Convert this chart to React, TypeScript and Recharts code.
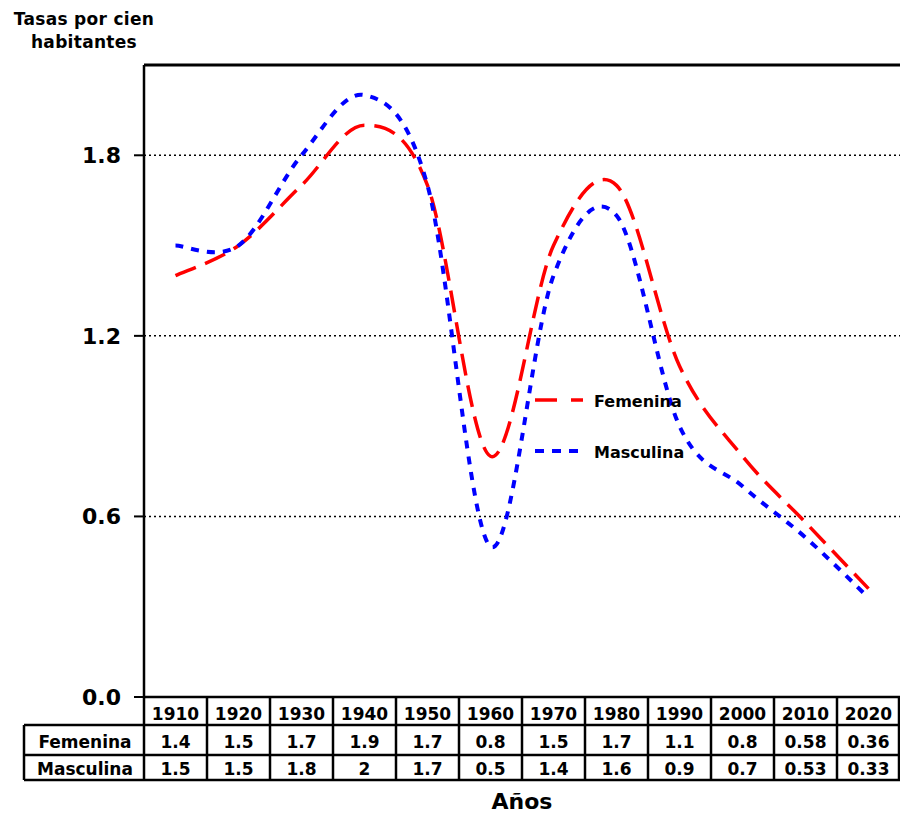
import React from 'react';
import { LineChart, Line, XAxis, YAxis, CartesianGrid, ReferenceLine } from 'recharts';

const years = ['1910', '1920', '1930', '1940', '1950', '1960', '1970', '1980', '1990', '2000', '2010', '2020'];
const femenina = [1.4, 1.5, 1.7, 1.9, 1.7, 0.8, 1.5, 1.7, 1.1, 0.8, 0.58, 0.36];
const masculina = [1.5, 1.5, 1.8, 2, 1.7, 0.5, 1.4, 1.6, 0.9, 0.7, 0.53, 0.33];
const femLabels = ['1.4', '1.5', '1.7', '1.9', '1.7', '0.8', '1.5', '1.7', '1.1', '0.8', '0.58', '0.36'];
const masLabels = ['1.5', '1.5', '1.8', '2', '1.7', '0.5', '1.4', '1.6', '0.9', '0.7', '0.53', '0.33'];
const yTicks = [0, 0.6, 1.2, 1.8];
const seriesNames = ['Femenina', 'Masculina'];

const data = years.map((y, i) => ({ year: y, Femenina: femenina[i], Masculina: masculina[i] }));

const FONT = '"DejaVu Sans", Verdana, sans-serif';

// Excel-like smoothing (cardinal spline, tension 0)
const excelCurve = (context: any) => {
  let pts: [number, number][] = [];
  return {
    areaStart() {},
    areaEnd() {},
    lineStart() { pts = []; },
    lineEnd() {
      const n = pts.length;
      if (!n) return;
      context.moveTo(pts[0][0], pts[0][1]);
      if (n === 1) return;
      for (let i = 0; i < n - 1; i++) {
        const p0 = pts[Math.max(i - 1, 0)];
        const p1 = pts[i];
        const p2 = pts[i + 1];
        const p3 = pts[Math.min(i + 2, n - 1)];
        const c1x = p1[0] + (p2[0] - p0[0]) / 6;
        const c1y = p1[1] + (p2[1] - p0[1]) / 6;
        const c2x = p2[0] - (p3[0] - p1[0]) / 6;
        const c2y = p2[1] - (p3[1] - p1[1]) / 6;
        context.bezierCurveTo(c1x, c1y, c2x, c2y, p2[0], p2[1]);
      }
    },
    point(x: number, y: number) { pts.push([+x, +y]); },
  };
};

const PLOT_LEFT = 144;
const COL_W = 63;
const TABLE_LEFT = 24;
const ROW_Y = [697, 725, 755, 780];

export default function App() {
  return (
    <div style={{ position: 'absolute', left: 0, top: 0, width: 900, height: 813, background: '#fff' }}>
      <div style={{ position: 'absolute', left: 0, top: 0 }}>
        <LineChart width={900} height={813} data={data} margin={{ top: 65, right: 0, bottom: 116, left: 0 }}>
          <CartesianGrid vertical={false} stroke="#000" strokeWidth={1.5} strokeDasharray="2 3" />
          <XAxis
            dataKey="year"
            height={0}
            tick={false}
            tickLine={false}
            axisLine={{ stroke: '#000', strokeWidth: 2.5 }}
            padding={{ left: COL_W / 2, right: COL_W / 2 }}
          />
          <YAxis
            width={PLOT_LEFT}
            domain={[0, 2.1]}
            ticks={yTicks}
            tickFormatter={(v: number) => v.toFixed(1)}
            tickSize={10}
            tickMargin={13}
            tickLine={{ stroke: '#000', strokeWidth: 2 }}
            axisLine={{ stroke: '#000', strokeWidth: 2.5 }}
            tick={{ fill: '#000', fontFamily: FONT, fontWeight: 'bold', fontSize: 22 }}
            allowDataOverflow
          />
          <ReferenceLine y={2.1} stroke="#000" strokeWidth={3} ifOverflow="visible" />
          <ReferenceLine y={0} stroke="#000" strokeWidth={2.5} ifOverflow="visible" />
          <Line
            dataKey="Femenina"
            type={excelCurve as any}
            stroke="#FF0000"
            strokeWidth={3.5}
            strokeDasharray="22 10"
            dot={false}
            activeDot={false}
            isAnimationActive={false}
          />
          <Line
            dataKey="Masculina"
            type={excelCurve as any}
            stroke="#0000FF"
            strokeWidth={4}
            strokeDasharray="8 8"
            dot={false}
            activeDot={false}
            isAnimationActive={false}
          />
        </LineChart>
      </div>
      <svg width={900} height={813} style={{ position: 'absolute', left: 0, top: 0, pointerEvents: 'none' }}>
        <text x={84} y={25} textAnchor="middle" fontFamily={FONT} fontWeight="bold" fontSize={17} letterSpacing={0.3} fill="#000">Tasas por cien</text>
        <text x={84} y={48} textAnchor="middle" fontFamily={FONT} fontWeight="bold" fontSize={17} letterSpacing={0.3} fill="#000">habitantes</text>

        {/* legend */}
        <line x1={535} y1={400} x2={583} y2={400} stroke="#FF0000" strokeWidth={3.5} strokeDasharray="22 14" />
        <text x={594} y={407} fontFamily={FONT} fontWeight="bold" fontSize={16} fill="#000">{seriesNames[0]}</text>
        <line x1={535} y1={451} x2={583} y2={451} stroke="#0000FF" strokeWidth={4} strokeDasharray="9 8" />
        <text x={594} y={458} fontFamily={FONT} fontWeight="bold" fontSize={16} fill="#000">{seriesNames[1]}</text>

        {/* table lines */}
        <g stroke="#000" strokeWidth={2.5}>
          {years.map((_, i) => (
            <line key={'v' + i} x1={PLOT_LEFT + i * COL_W} y1={ROW_Y[0]} x2={PLOT_LEFT + i * COL_W} y2={ROW_Y[3]} />
          ))}
          <line x1={PLOT_LEFT + years.length * COL_W - 1} y1={ROW_Y[0]} x2={PLOT_LEFT + years.length * COL_W - 1} y2={ROW_Y[3]} />
          <line x1={TABLE_LEFT} y1={ROW_Y[1]} x2={900} y2={ROW_Y[1]} />
          <line x1={TABLE_LEFT} y1={ROW_Y[2]} x2={900} y2={ROW_Y[2]} />
          <line x1={TABLE_LEFT} y1={ROW_Y[3]} x2={900} y2={ROW_Y[3]} />
          <line x1={TABLE_LEFT} y1={ROW_Y[1]} x2={TABLE_LEFT} y2={ROW_Y[3]} />
        </g>
        <g fontFamily={FONT} fontWeight="bold" fontSize={17} fill="#000" textAnchor="middle">
          {years.map((y, i) => (
            <text key={'y' + i} x={PLOT_LEFT + i * COL_W + COL_W / 2} y={720}>{y}</text>
          ))}
          {femLabels.map((v, i) => (
            <text key={'f' + i} x={PLOT_LEFT + i * COL_W + COL_W / 2} y={748}>{v}</text>
          ))}
          {masLabels.map((v, i) => (
            <text key={'m' + i} x={PLOT_LEFT + i * COL_W + COL_W / 2} y={775}>{v}</text>
          ))}
          <text x={85} y={748}>{seriesNames[0]}</text>
          <text x={85} y={775}>{seriesNames[1]}</text>
        </g>
        <text x={522} y={809} textAnchor="middle" fontFamily={FONT} fontWeight="bold" fontSize={22} fill="#000">Años</text>
      </svg>
    </div>
  );
}
